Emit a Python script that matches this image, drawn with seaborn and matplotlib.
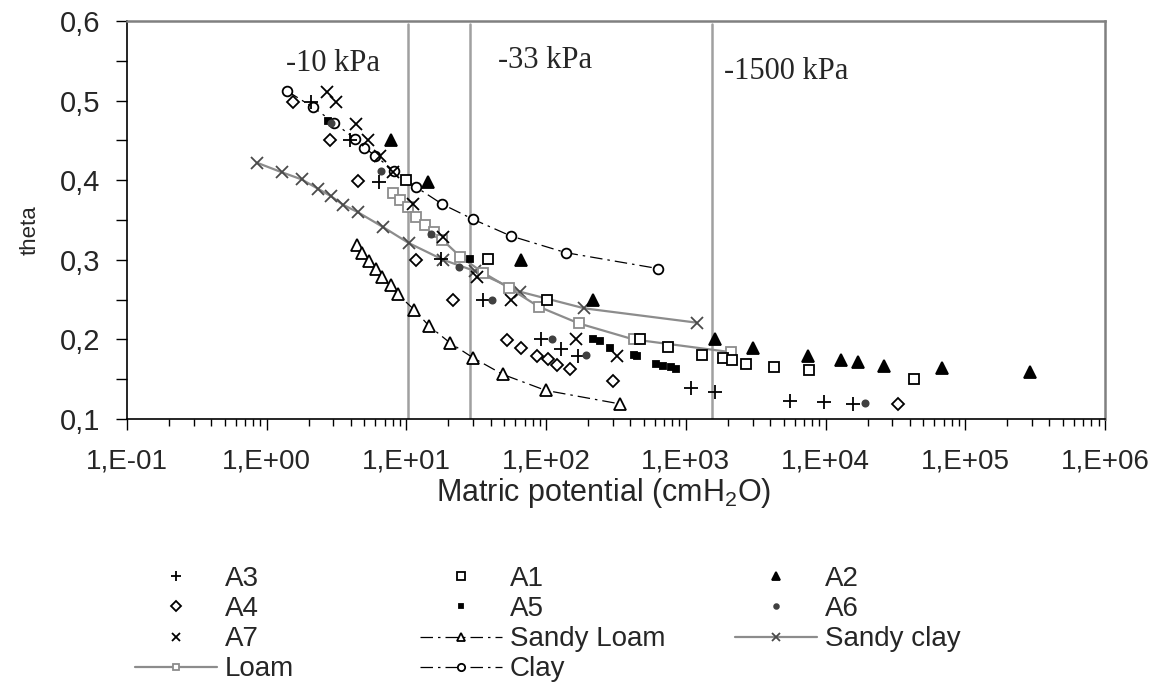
import numpy as np
import pandas as pd
import matplotlib
matplotlib.use('Agg')
import matplotlib.pyplot as plt
from matplotlib.ticker import FuncFormatter, FixedLocator, LogLocator, MultipleLocator, NullFormatter
import seaborn as sns

sns.set_theme(style='white')
plt.rcParams['font.family'] = ['Liberation Sans', 'DejaVu Sans']
plt.rcParams['mathtext.default'] = 'regular'

# measured points
a1_x = [10, 38.4, 102, 470, 745, 1300, 1840, 2150, 2700, 4300, 7580, 43300]
a1_y = [0.40, 0.301, 0.249, 0.201, 0.190, 0.181, 0.177, 0.1735, 0.169, 0.165, 0.161, 0.150]
a2_x = [7.7, 14.3, 66, 218, 1620, 3030, 7450, 13000, 17000, 26000, 68000, 290000]
a2_y = [0.45, 0.398, 0.30, 0.249, 0.20, 0.189, 0.179, 0.174, 0.172, 0.167, 0.164, 0.159]
a3_x = [2.09, 3.94, 6.36, 17.8, 35.3, 92, 128, 168, 1090, 1620, 5550, 9700, 15800]
a3_y = [0.498, 0.451, 0.398, 0.301, 0.249, 0.20, 0.188, 0.179, 0.139, 0.134, 0.123, 0.121, 0.119]
a4_x = [1.55, 2.84, 4.47, 11.7, 21.6, 52.6, 65.6, 86, 103, 120, 147, 303, 33000]
a4_y = [0.498, 0.451, 0.399, 0.300, 0.249, 0.1995, 0.189, 0.179, 0.175, 0.168, 0.163, 0.148, 0.119]
a5_x = [2.75, 28.4, 215, 243, 286, 425, 445, 613, 681, 780, 853]
a5_y = [0.474, 0.301, 0.2008, 0.198, 0.1895, 0.181, 0.1786, 0.169, 0.167, 0.165, 0.1626]
a6_x = [2.9, 6.63, 15.1, 23.7, 41, 110, 193, 19100]
a6_y = [0.472, 0.412, 0.333, 0.291, 0.2495, 0.20, 0.180, 0.120]
a7_x = [2.68, 3.11, 4.33, 5.32, 6.46, 8.03, 11.2, 18.3, 32, 56, 164, 322]
a7_y = [0.511, 0.498, 0.471, 0.451, 0.430, 0.410, 0.370, 0.329, 0.278, 0.249, 0.20, 0.179]

# texture class curves
sloam_x = [4.45, 4.83, 5.39, 6.1, 6.74, 7.74, 8.64, 11.4, 14.5, 20.4, 29.9, 49, 99, 336]
sloam_y = [0.318, 0.308, 0.298, 0.289, 0.278, 0.268, 0.257, 0.237, 0.217, 0.196, 0.177, 0.156, 0.136, 0.119]
sclay_x = [0.85, 1.28, 1.78, 2.34, 2.88, 3.53, 4.47, 6.82, 10.4, 18.3, 30.8, 64.6, 188, 1200]
sclay_y = [0.422, 0.410, 0.401, 0.389, 0.380, 0.369, 0.360, 0.341, 0.321, 0.30, 0.286, 0.260, 0.239, 0.221]
loam_x = [8.03, 8.97, 10.2, 11.8, 13.5, 15.7, 18.1, 24.3, 35.3, 53.8, 88.7, 172, 422, 2090]
loam_y = [0.384, 0.375, 0.366, 0.354, 0.344, 0.335, 0.325, 0.304, 0.284, 0.265, 0.241, 0.220, 0.200, 0.184]
clay_x = [1.40, 2.13, 3.05, 4.28, 4.99, 5.95, 8.1, 11.8, 18.0, 29.9, 55.7, 138, 631]
clay_y = [0.512, 0.492, 0.472, 0.452, 0.441, 0.431, 0.412, 0.391, 0.370, 0.351, 0.330, 0.309, 0.289]

# reference suctions
lim_x = [10.2, 28.5, 1530]
lim_txt = ['-10 kPa', '-33 kPa', '-1500 kPa']
lim_tx = [1.38, 45.2, 1860]
lim_ty = [0.547, 0.550, 0.537]

x_ticks = [0.1, 1, 10, 100, 1e3, 1e4, 1e5, 1e6]

fig = plt.figure(figsize=(11.68, 6.84), dpi=100)
ax = fig.add_axes([127/1168, 1 - 419/684, (1105 - 127)/1168, (419 - 21)/684])

for xv in lim_x:
    ax.axvline(xv, ymax=0.992, color='#a0a0a0', lw=1.8, zorder=1)
for xt, yt, t in zip(lim_tx, lim_ty, lim_txt):
    ax.text(xt, yt, t, family='Liberation Serif', fontsize=22, ha='left', va='center')

gray = '#8c8c8c'
dashdot = (0, (10, 4, 2, 4))


def draw(x, y, label, marker, ms, color, face, ls='', lw=1.0, mew=1.3, mec=None, z=3):
    sns.lineplot(x=x, y=y, ax=ax, label=label, estimator=None, sort=False,
                 color=color, marker=marker, markersize=ms,
                 markeredgecolor=mec if mec else color,
                 markerfacecolor=face, markeredgewidth=mew, linestyle=ls,
                 linewidth=lw, zorder=z)


draw(sloam_x, sloam_y, 'Sandy Loam', '^', 8.5, 'black', 'white', ls=dashdot, lw=0.9)
draw(clay_x, clay_y, 'Clay', 'o', 7, 'black', 'white', ls=dashdot, lw=0.9)
draw(sclay_x, sclay_y, 'Sandy clay', 'x', 8.5, gray, 'none', ls='-', lw=1.6, mec='#4a4a4a')
draw(loam_x, loam_y, 'Loam', 's', 6.5, gray, 'white', ls='-', lw=1.6)
draw(a1_x, a1_y, 'A1', 's', 7, 'black', 'white')
draw(a2_x, a2_y, 'A2', '^', 8, 'black', 'black')
draw(a3_x, a3_y, 'A3', '+', 10, 'black', 'black')
draw(a4_x, a4_y, 'A4', 'D', 6.5, 'black', 'white')
draw(a5_x, a5_y, 'A5', 's', 4, 'black', 'black')
draw(a6_x, a6_y, 'A6', 'o', 4.5, '#404040', '#404040')
draw(a7_x, a7_y, 'A7', 'x', 8.5, 'black', 'none')

ax.set_xscale('log')
ax.set_xlim(0.1, 1e6)
ax.set_ylim(0.1, 0.6)


def sci(v, pos):
    e = int(round(np.log10(v)))
    return '1,E%s%02d' % ('+' if e >= 0 else '-', abs(e))


ax.xaxis.set_major_locator(FixedLocator(x_ticks))
ax.xaxis.set_minor_locator(LogLocator(base=10, subs=range(2, 10), numticks=100))
ax.xaxis.set_major_formatter(FuncFormatter(sci))
ax.xaxis.set_minor_formatter(NullFormatter())
ax.yaxis.set_major_locator(MultipleLocator(0.1))
ax.yaxis.set_minor_locator(MultipleLocator(0.05))
ax.yaxis.set_major_formatter(FuncFormatter(lambda v, p: ('%.1f' % v).replace('.', ',')))

ax.tick_params(which='both', direction='out', bottom=True, left=True, top=False, right=False,
               color='black', width=1)
ax.tick_params(axis='y', which='both', length=8, pad=11, labelsize=21)
ax.tick_params(axis='x', which='major', length=8, pad=13, labelsize=20)
ax.tick_params(axis='x', which='minor', length=5)

for s in ['left', 'bottom']:
    ax.spines[s].set_color('black')
    ax.spines[s].set_linewidth(1.2)
for s in ['top', 'right']:
    ax.spines[s].set_color('#808080')
    ax.spines[s].set_linewidth(1.8)

ax.set_xlabel('Matric potential (cmH$_2$O)', fontsize=22)
ax.xaxis.set_label_coords(0.487, (419 - 476) / 398)
ax.set_ylabel('theta', fontsize=16)
ax.yaxis.set_label_coords((41 - 127) / 978, 0.475)

handles, labels = ax.get_legend_handles_labels()
ax.get_legend().remove()
hmap = dict(zip(labels, handles))
cols = [['A3', 'A4', 'A7', 'Loam'], ['A1', 'A5', 'Sandy Loam', 'Clay'], ['A2', 'A6', 'Sandy clay']]
col_x = [135, 420, 735]
for cx, names in zip(col_x, cols):
    fig.legend([hmap[n] for n in names], names, loc='upper left',
               bbox_to_anchor=(cx / 1168, 1 - 566 / 684),
               frameon=False, fontsize=20, markerscale=0.75, handlelength=2.95,
               handletextpad=0.29, labelspacing=0.15, borderpad=0, borderaxespad=0)

fig.savefig('out.png', dpi=100)
